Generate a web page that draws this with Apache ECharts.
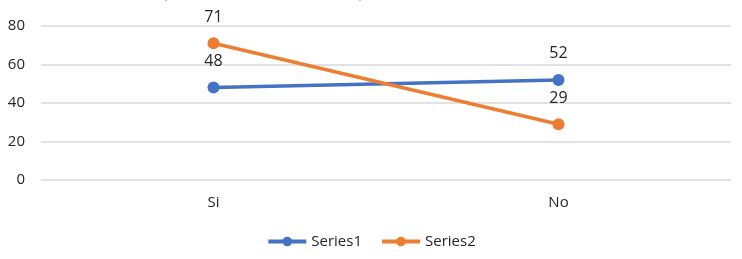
<!DOCTYPE html>
<html>
<head>
<meta charset="utf-8">
<script src="https://cdn.jsdelivr.net/npm/echarts@6/dist/echarts.min.js"></script>
<style>html,body{margin:0;padding:0;background:#fff}#c{width:742px;height:259px}</style>
</head>
<body>
<div id="c"></div>
<script>
const titleText = "Capacitación docente adecuada para enseñar las clases informáticas";
const categories = ["Si", "No"];
const series1 = [48, 52];
const series2 = [71, 29];
const yTicks = [0, 20, 40, 60, 80];

const font = "'Open Sans', 'Liberation Sans', sans-serif";
const chart = echarts.init(document.getElementById('c'), null, {renderer: 'canvas'});
chart.setOption({
  animation: false,
  title: {
    text: titleText, left: 'center', top: -19,
    textStyle: {fontSize: 14, color: '#8c8c8c', fontWeight: 'normal', fontFamily: font}
  },
  grid: {left: 41, right: 11, top: 26, bottom: 79, containLabel: false},
  legend: {
    bottom: 5, left: 'center', itemWidth: 38, itemHeight: 12, itemGap: 18,
    lineStyle: {width: 4},
    textStyle: {fontSize: 15, color: '#262626', fontFamily: font},
    data: ['Series1', 'Series2']
  },
  xAxis: {
    type: 'category', data: categories, boundaryGap: true,
    axisLine: {show: false}, axisTick: {show: false},
    axisLabel: {fontSize: 15, color: '#262626', margin: 15, fontFamily: font}
  },
  yAxis: {
    type: 'value', min: yTicks[0], max: yTicks[yTicks.length - 1], interval: 20,
    axisLine: {show: false}, axisTick: {show: false},
    axisLabel: {fontSize: 15, color: '#262626', margin: 16, fontFamily: font},
    splitLine: {lineStyle: {color: '#d9d9d9', width: 1.5}}
  },
  series: [
    {
      name: 'Series1', type: 'line', data: series1,
      symbol: 'circle', symbolSize: 12,
      lineStyle: {width: 3.5, color: '#4472C4'},
      itemStyle: {color: '#4472C4'},
      label: {show: true, position: 'top', distance: 12, fontSize: 16, color: '#262626', fontFamily: font}
    },
    {
      name: 'Series2', type: 'line', data: series2,
      symbol: 'circle', symbolSize: 12,
      lineStyle: {width: 3.5, color: '#ED7D31'},
      itemStyle: {color: '#ED7D31'},
      label: {show: true, position: 'top', distance: 12, fontSize: 16, color: '#262626', fontFamily: font}
    }
  ]
});
</script>
</body>
</html>
